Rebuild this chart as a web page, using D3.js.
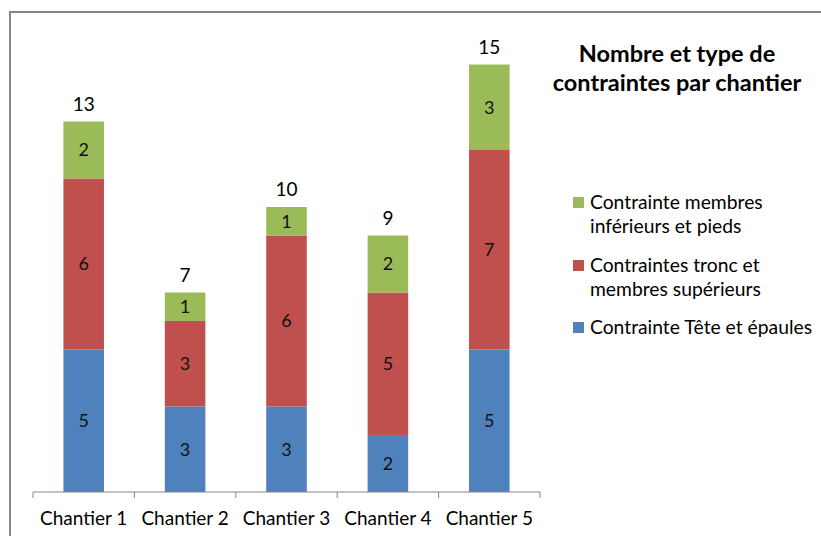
<!DOCTYPE html>
<html>
<head>
<meta charset="utf-8">
<script src="https://cdn.jsdelivr.net/npm/d3@7"></script>
<style>
  html, body { margin: 0; padding: 0; background: #fff; }
  svg { display: block; }
</style>
</head>
<body>
<svg id="chart" width="821" height="536"></svg>
<script>
// Sites and constraint counts per body zone (stacked bottom to top)
const categories = ["Chantier 1", "Chantier 2", "Chantier 3", "Chantier 4", "Chantier 5"];
const teteEpaules = [5, 3, 3, 2, 5];
const troncMembresSup = [6, 3, 6, 5, 7];
const membresInfPieds = [2, 1, 1, 2, 3];
const seriesNames = [
  "Contrainte Tête et épaules",
  "Contraintes tronc et membres supérieurs",
  "Contrainte membres inférieurs et pieds"
];
const seriesColors = ["#4F81BD", "#C0504D", "#9BBB59"];
const legendLines = [
  ["Contrainte Tête et épaules"],
  ["Contraintes tronc et", "membres supérieurs"],
  ["Contrainte membres", "inférieurs et pieds"]
];
const titleLines = ["Nombre et type de", "contraintes par chantier"];

const FONT = "Lato, 'Open Sans', sans-serif";
const svg = d3.select("#chart");

// chart frame
svg.append("rect")
  .attr("x", 10).attr("y", 12)
  .attr("width", 1000).attr("height", 1000)
  .attr("fill", "#fff")
  .attr("stroke", "#868686").attr("stroke-width", 2);

const table = categories.map((c, i) => ({
  cat: c,
  s0: teteEpaules[i],
  s1: troncMembresSup[i],
  s2: membresInfPieds[i]
}));
const stack = d3.stack().keys(["s0", "s1", "s2"])(table);

const x = d3.scaleBand().domain(categories).range([33, 540]).paddingInner(0.6).paddingOuter(0.3);
const y = d3.scaleLinear().domain([0, 16]).range([492, 36]);

// stacked bars
const layers = svg.append("g").selectAll("g").data(stack).join("g")
  .attr("fill", (d, i) => seriesColors[i]);
layers.selectAll("rect").data(d => d).join("rect")
  .attr("x", d => x(d.data.cat))
  .attr("width", x.bandwidth())
  .attr("y", d => y(d[1]))
  .attr("height", d => y(d[0]) - y(d[1]));

// segment value labels
layers.selectAll("text").data(d => d).join("text")
  .attr("x", d => x(d.data.cat) + x.bandwidth() / 2)
  .attr("y", d => (y(d[0]) + y(d[1])) / 2)
  .attr("dy", "0.36em")
  .attr("text-anchor", "middle")
  .attr("fill", "#111")
  .style("font-family", FONT).style("font-size", "18px")
  .text(d => d[1] - d[0]);

// totals above each bar
svg.append("g").selectAll("text").data(table).join("text")
  .attr("x", d => x(d.cat) + x.bandwidth() / 2)
  .attr("y", d => y(d.s0 + d.s1 + d.s2) - 11)
  .attr("text-anchor", "middle")
  .attr("fill", "#000")
  .style("font-family", FONT).style("font-size", "19px")
  .text(d => d.s0 + d.s1 + d.s2);

// category axis with boundary ticks
const axisG = svg.append("g").attr("transform", "translate(0,492)");
axisG.append("line")
  .attr("x1", 33).attr("x2", 540)
  .attr("stroke", "#868686").attr("stroke-width", 1);
const step = x.step();
const bounds = d3.range(categories.length + 1).map(i => 33 + i * step);
axisG.selectAll("line.tick").data(bounds).join("line")
  .attr("class", "tick")
  .attr("x1", d => d).attr("x2", d => d)
  .attr("y1", 0).attr("y2", 6)
  .attr("stroke", "#868686").attr("stroke-width", 1);
axisG.selectAll("text").data(categories).join("text")
  .attr("x", d => x(d) + x.bandwidth() / 2)
  .attr("y", 33)
  .attr("text-anchor", "middle")
  .attr("fill", "#000")
  .style("font-family", FONT).style("font-size", "19px")
  .text(d => d);

// title
svg.append("text")
  .attr("x", 677).attr("y", 62)
  .attr("text-anchor", "middle")
  .style("font-family", FONT).style("font-size", "23.5px").style("font-weight", "bold")
  .selectAll("tspan").data(titleLines).join("tspan")
  .attr("x", 677).attr("dy", (d, i) => i === 0 ? 0 : 29)
  .text(d => d);

// legend (top item = top series)
const legendY = [209, 272, 334];
const legend = svg.append("g").selectAll("g").data([2, 1, 0]).join("g")
  .attr("transform", (s, i) => `translate(573,${legendY[i]})`);
legend.append("rect")
  .attr("x", 0).attr("y", -12).attr("width", 11).attr("height", 11)
  .attr("fill", s => seriesColors[s]);
legend.append("text")
  .attr("x", 17).attr("y", 0)
  .attr("fill", "#000")
  .style("font-family", FONT).style("font-size", "19.3px")
  .selectAll("tspan").data(s => legendLines[s]).join("tspan")
  .attr("x", 17).attr("dy", (d, i) => i === 0 ? 0 : 24)
  .text(d => d);
</script>
</body>
</html>
